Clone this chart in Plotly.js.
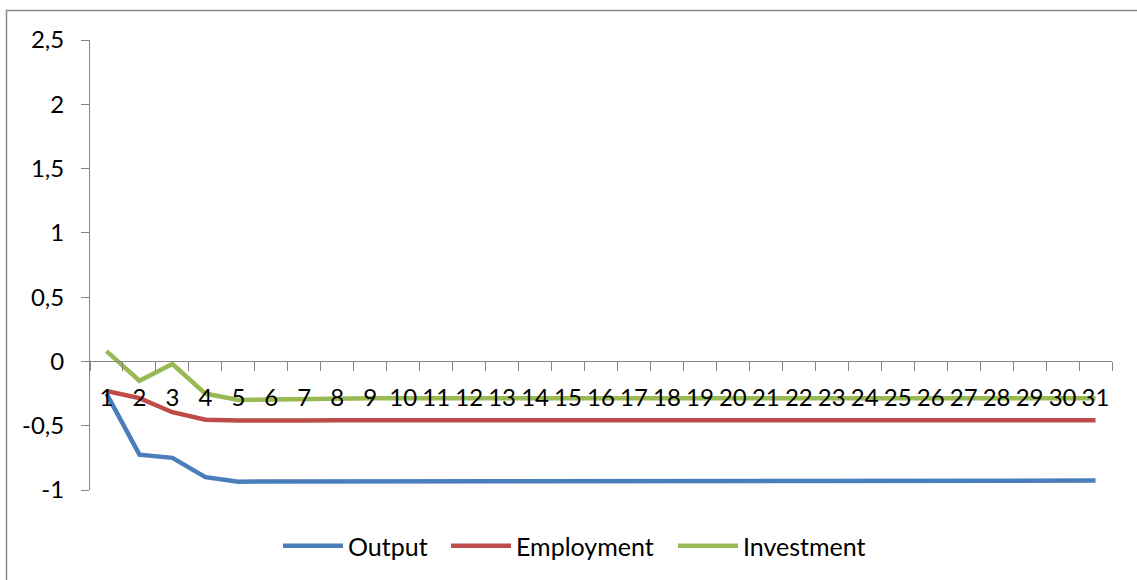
<!DOCTYPE html>
<html>
<head>
<meta charset="utf-8">
<script src="https://cdn.plot.ly/plotly-3.0.1.min.js"></script>
<style>
  html, body { margin: 0; padding: 0; background: #fff; }
  #chart { width: 1137px; height: 580px; }
</style>
</head>
<body>
<div id="chart"></div>
<script>
// Periods 1..31
const periods = ['1','2','3','4','5','6','7','8','9','10','11','12','13','14','15','16',
  '17','18','19','20','21','22','23','24','25','26','27','28','29','30','31'];

const output = [-0.25, -0.725, -0.75, -0.90, -0.935, -0.935, -0.927, -0.928, -0.927, -0.927,
  -0.927, -0.927, -0.927, -0.927, -0.927, -0.927, -0.927, -0.927, -0.927, -0.927,
  -0.927, -0.927, -0.927, -0.927, -0.927, -0.927, -0.927, -0.927, -0.927, -0.927, -0.927];

const employment = [-0.23, -0.285, -0.395, -0.454, -0.459, -0.462, -0.46, -0.458, -0.458, -0.458,
  -0.458, -0.458, -0.458, -0.458, -0.458, -0.458, -0.458, -0.458, -0.458, -0.458,
  -0.458, -0.458, -0.458, -0.458, -0.458, -0.458, -0.458, -0.458, -0.458, -0.458, -0.458];

const investment = [0.08, -0.15, -0.02, -0.25, -0.30, -0.295, -0.289, -0.288, -0.287, -0.286,
  -0.286, -0.286, -0.286, -0.286, -0.286, -0.286, -0.286, -0.286, -0.286, -0.286,
  -0.286, -0.286, -0.286, -0.286, -0.286, -0.286, -0.286, -0.286, -0.286, -0.286, -0.286];

const yTickVals = [-1, -0.5, 0, 0.5, 1, 1.5, 2, 2.5];
const yTickText = ['-1', '-0,5', '0', '0,5', '1', '1,5', '2', '2,5'];

const W = 1137, H = 580;
const M = { l: 90, r: 25, t: 40, b: 89 };
const plotW = W - M.l - M.r, plotH = H - M.t - M.b;
const yMin = -1, yMax = 2.5;

const family = 'Lato, "Open Sans", sans-serif';
const tickFont = { family: family, size: 24, color: '#000' };
const legendFont = { family: family, size: 25, color: '#000' };
const axisGray = '#868686';

function line(name, y, color, legendId) {
  return {
    type: 'scatter', mode: 'lines', name: name,
    x: periods, y: y,
    legend: legendId,
    line: { color: color, width: 4.5 },
    hoverinfo: 'skip'
  };
}

const data = [
  line('Output', output, '#4a7ebb', 'legend'),
  line('Employment', employment, '#be4b48', 'legend2'),
  line('Investment', investment, '#98b954', 'legend3')
];

// pixel -> paper coordinate helpers
const px = v => (v - M.l) / plotW;
const py = v => 1 - (v - M.t) / plotH;

// one legend box per series, each placed at its own horizontal slot
function legendAt(xPix) {
  return {
    orientation: 'h', x: px(xPix), xanchor: 'left', y: py(546), yanchor: 'middle',
    font: legendFont, itemwidth: 60, bgcolor: 'rgba(0,0,0,0)', borderwidth: 0
  };
}

const layout = {
  width: W, height: H,
  margin: M,
  paper_bgcolor: '#fff', plot_bgcolor: '#fff',
  font: tickFont,
  showlegend: true,
  legend: legendAt(278),
  legend2: legendAt(446),
  legend3: legendAt(673),
  xaxis: {
    type: 'category',
    range: [-0.5, 30.5],
    anchor: 'free',
    position: (0 - yMin) / (yMax - yMin),
    showline: true, linecolor: axisGray, linewidth: 1,
    ticks: 'outside', ticklen: 9, tickcolor: axisGray, tickwidth: 1,
    tickson: 'boundaries',
    tickangle: 0,
    ticklabelstandoff: 15,
    showgrid: false, zeroline: false,
    tickfont: tickFont,
    fixedrange: true
  },
  yaxis: {
    range: [yMin, yMax],
    tickvals: yTickVals, ticktext: yTickText,
    showline: true, linecolor: axisGray, linewidth: 1,
    ticks: 'outside', ticklen: 8, tickcolor: axisGray, tickwidth: 1,
    ticklabelstandoff: 12,
    showgrid: false, zeroline: false,
    tickfont: tickFont,
    fixedrange: true
  },
  shapes: [{
    type: 'rect', xref: 'paper', yref: 'paper',
    x0: px(6.5), x1: px(1145), y0: py(590), y1: py(10.5),
    line: { color: '#8c8c8c', width: 1.5 }, fillcolor: 'rgba(0,0,0,0)',
    layer: 'below'
  }]
};

Plotly.newPlot('chart', data, layout, { staticPlot: true, displayModeBar: false });
</script>
</body>
</html>
